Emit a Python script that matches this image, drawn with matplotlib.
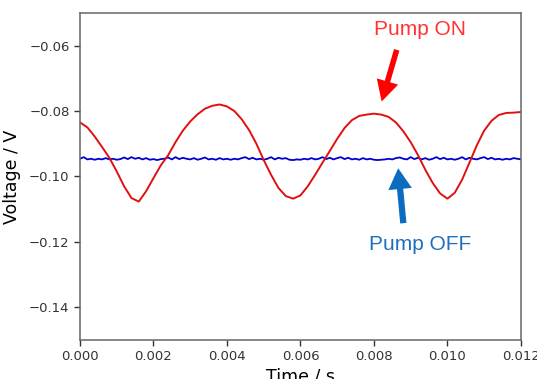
import numpy as np
import matplotlib
matplotlib.use("Agg")
import matplotlib.pyplot as plt

# ---- data ----
red_t_step = 0.0002
red_v = [
    -0.0835, -0.0850, -0.0878, -0.0910, -0.0943, -0.0985, -0.1030, -0.1066,
    -0.1077, -0.1045, -0.1005, -0.0966, -0.0935, -0.0895, -0.0860, -0.0832,
    -0.0810, -0.0793, -0.0784, -0.0780, -0.0786, -0.0800, -0.0825, -0.0858,
    -0.0900, -0.0950, -0.0995, -0.1035, -0.1060, -0.1068, -0.1058, -0.1030,
    -0.0995, -0.0958, -0.0922, -0.0885, -0.0852, -0.0828, -0.0815, -0.0811,
    -0.0808, -0.0811, -0.0818, -0.0835, -0.0862, -0.0895, -0.0935, -0.0980,
    -0.1020, -0.1052, -0.1068, -0.1050, -0.1010, -0.0958, -0.0905, -0.0860,
    -0.0830, -0.0812, -0.0806, -0.0805, -0.0803,
]
blue_t_step = 0.0001
blue_v = [
    -0.0946, -0.0941, -0.0948, -0.0946, -0.0949, -0.0946, -0.0948, -0.0944,
    -0.0948, -0.0946, -0.0949, -0.0947, -0.0942, -0.0947, -0.0941, -0.0946,
    -0.0943, -0.0948, -0.0944, -0.0949, -0.0947, -0.0950, -0.0947, -0.0946,
    -0.0942, -0.0948, -0.0941, -0.0947, -0.0943, -0.0946, -0.0948, -0.0944,
    -0.0949, -0.0946, -0.0942, -0.0948, -0.0946, -0.0949, -0.0944, -0.0948,
    -0.0946, -0.0949, -0.0946, -0.0948, -0.0944, -0.0941, -0.0947, -0.0943,
    -0.0948, -0.0946, -0.0949, -0.0946, -0.0941, -0.0948, -0.0943, -0.0946,
    -0.0944, -0.0949, -0.0950, -0.0948, -0.0949, -0.0946, -0.0948, -0.0944,
    -0.0948, -0.0946, -0.0941, -0.0947, -0.0943, -0.0948, -0.0944, -0.0941,
    -0.0947, -0.0943, -0.0948, -0.0946, -0.0949, -0.0944, -0.0948, -0.0946,
    -0.0949, -0.0950, -0.0949, -0.0948, -0.0946, -0.0948, -0.0944, -0.0942,
    -0.0946, -0.0948, -0.0941, -0.0947, -0.0943, -0.0948, -0.0944, -0.0949,
    -0.0946, -0.0941, -0.0947, -0.0943, -0.0948, -0.0946, -0.0949, -0.0946,
    -0.0941, -0.0948, -0.0943, -0.0946, -0.0948, -0.0944, -0.0941, -0.0947,
    -0.0943, -0.0948, -0.0946, -0.0949, -0.0946, -0.0948, -0.0944, -0.0946,
    -0.0948,
]
x_ticks = [0.000, 0.002, 0.004, 0.006, 0.008, 0.010, 0.012]
y_ticks = [-0.14, -0.12, -0.10, -0.08, -0.06]

red_t = np.arange(len(red_v)) * red_t_step
blue_t = np.arange(len(blue_v)) * blue_t_step

fig = plt.figure(figsize=(5.37, 3.79), dpi=100)
ax = fig.add_axes([0.149, 0.103, 0.821, 0.863])

ax.plot(blue_t, blue_v, color="#0000d0", lw=1.3)
ax.plot(red_t, red_v, color="#e01010", lw=1.4)

ax.set_xlim(0, 0.012)
ax.set_ylim(-0.15, -0.05)
ax.set_xticks(x_ticks)
ax.set_yticks(y_ticks)
ax.xaxis.set_major_formatter(matplotlib.ticker.FormatStrFormatter("%.3f"))
ax.yaxis.set_major_formatter(matplotlib.ticker.FuncFormatter(lambda v, p: ("%.2f" % v).replace("-", "\u2212")))
ax.tick_params(labelsize=9.5, colors="#333333", length=4, width=1)
for s in ax.spines.values():
    s.set_color("#666666")
    s.set_linewidth(1.1)

ax.set_ylabel("Voltage / V", fontsize=12.5, labelpad=6)
ax.set_xlabel("Time / s", fontsize=12.5, labelpad=3)

# annotations
ax.annotate("", xy=(0.00821, -0.0771), xytext=(0.00862, -0.0613),
            arrowprops=dict(width=4, headwidth=16, headlength=15, shrink=0,
                            color="#ff0000", linewidth=0))
ax.text(0.00925, -0.0552, "Pump ON", color="#ff3333", fontsize=15,
        family="Liberation Sans", ha="center", va="center")

ax.annotate("", xy=(0.00866, -0.0975), xytext=(0.00880, -0.1143),
            arrowprops=dict(width=4.5, headwidth=17, headlength=15, shrink=0,
                            color="#0b6cc0", linewidth=0))
ax.text(0.00925, -0.1209, "Pump OFF", color="#1f6fbf", fontsize=15,
        family="Liberation Sans", ha="center", va="center")

fig.savefig("out.png", dpi=100)
